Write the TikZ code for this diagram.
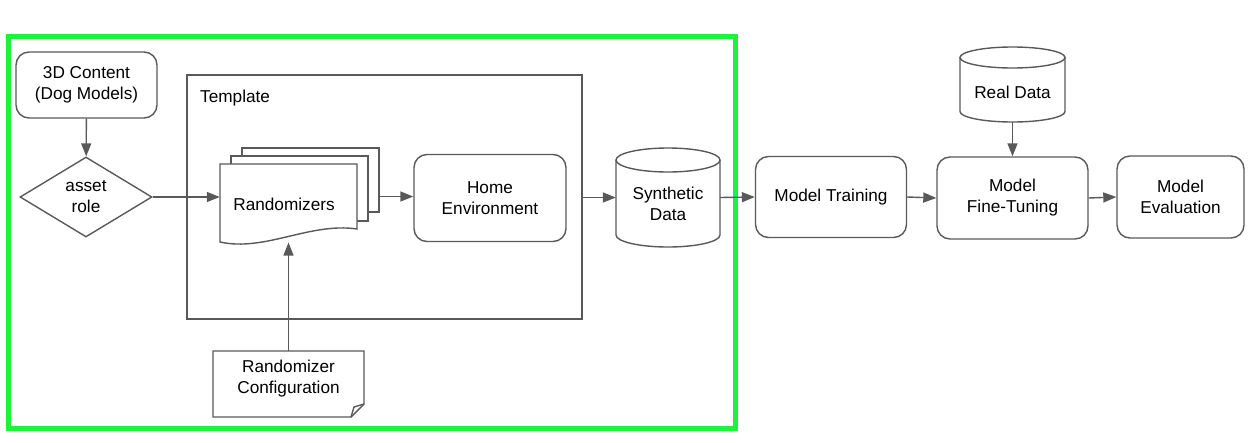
\documentclass[tikz,border=0pt]{standalone}
\usepackage{fontspec}
\setmainfont{Liberation Sans}
\usepackage{tikz}
\usetikzlibrary{arrows.meta}
\usetikzlibrary{shapes.geometric}
\definecolor{linegray}{RGB}{89,89,89}
\definecolor{framegreen}{RGB}{30,242,60}

\begin{document}
\begin{tikzpicture}[ x=1pt, y=-1pt,
      every node/.style={color=black, font=\fontsize{17.2}{21}\selectfont, align=center, inner sep=0pt},
      line/.style={draw=linegray, line width=1.4pt},
      normal/.style={line, -{Triangle[length=13pt,width=10pt]}},
      box/.style={line, rounded corners=13pt},
      decision/.style={line, diamond, aspect=1.65, minimum width=132pt, minimum height=80pt},
      hidden/.style={draw=none},
      green frame/.style={draw=framegreen, line width=5pt}
      ]
      \useasboundingbox (0,0) rectangle (1255,442);

      % pipeline frame
      \draw[green frame] (8,36) rectangle (735.5,428.5);

      % assets
      \node[box, minimum width=141pt, minimum height=66pt] (content) at (86.5,85) {3D Content\\(Dog Models)};
      \node[decision] (asset) at (86,197) {asset\\role};

      % template
      \node[line, minimum width=395pt, minimum height=244pt] (template) at (384.5,197) {};
      \node[anchor=west] (templatelabel) at (200,98) {Template};

      % randomizers stack
      \filldraw[line, fill=white] (242,148) rectangle (379,212);
      \filldraw[line, fill=white] (231,156) rectangle (368,221);
      \filldraw[line, fill=white] (220,164) -- (357,164) -- (357,229)
            .. controls (310,222) and (265,252) .. (220,242) -- cycle;
      \node[hidden, minimum width=159pt, minimum height=97pt] (stack) at (299.5,196.5) {};
      \node (randlabel) at (284,204) {Randomizers};
      \coordinate (randbottom) at (288.5,242.5);

      \node[box, minimum width=152pt, minimum height=87pt] (home) at (490,198) {Home\\Environment};

      % configuration note
      \filldraw[line, fill=white] (213,351) -- (364,351) -- (364,404) -- (351,417) -- (213,417) -- cycle;
      \draw[line] (364,404) -- (354,407) -- (351,417);
      \node[hidden, minimum width=151pt, minimum height=56pt] (config) at (288.5,379) {Randomizer\\Configuration};

      % synthetic data
      \draw[line] (616,160) -- (616,235) arc[start angle=180, end angle=0, x radius=52, y radius=12] -- (720,160);
      \draw[line] (668,160) ellipse [x radius=52, y radius=12];
      \node[hidden, minimum width=104pt, minimum height=99pt] (synth) at (668,197.5) {};
      \node (synthlabel) at (668,204) {Synthetic\\Data};

      % training
      \node[box, minimum width=151pt, minimum height=81pt] (training) at (831,197) {Model Training};
      \node[box, minimum width=151pt, minimum height=82pt] (finetune) at (1012.5,198) {Model\\Fine-Tuning};
      \node[box, minimum width=127pt, minimum height=82pt] (evaluation) at (1180.5,197) {Model\\Evaluation};

      % real data
      \draw[line] (960,57.5) -- (960,111.5) arc[start angle=180, end angle=0, x radius=52.5, y radius=10.5] -- (1065,57.5);
      \draw[line] (1012.5,57.5) ellipse [x radius=52.5, y radius=10.5];
      \node[hidden, minimum width=105pt, minimum height=75pt] (real) at (1012.5,84.5) {};
      \node (reallabel) at (1012.5,92) {Real Data};

      % connectors
      \draw[normal] (content) -- (asset);
      \draw[normal] (asset.east) -- (asset.east -| stack.west);
      \draw[normal] (stack.east) -- (stack.east -| home.west);
      \draw[normal] (config.north) -- (randbottom);
      \draw[normal] (synth.west -| template.east) -- (synth.west);
      \draw[normal] (synth.east) -- (training.west);
      \draw[normal] (training.east) -- (finetune.west);
      \draw[normal] (finetune.east) -- (evaluation.west);
      \draw[normal] (real) -- (finetune);
    \end{tikzpicture}
\end{document}
